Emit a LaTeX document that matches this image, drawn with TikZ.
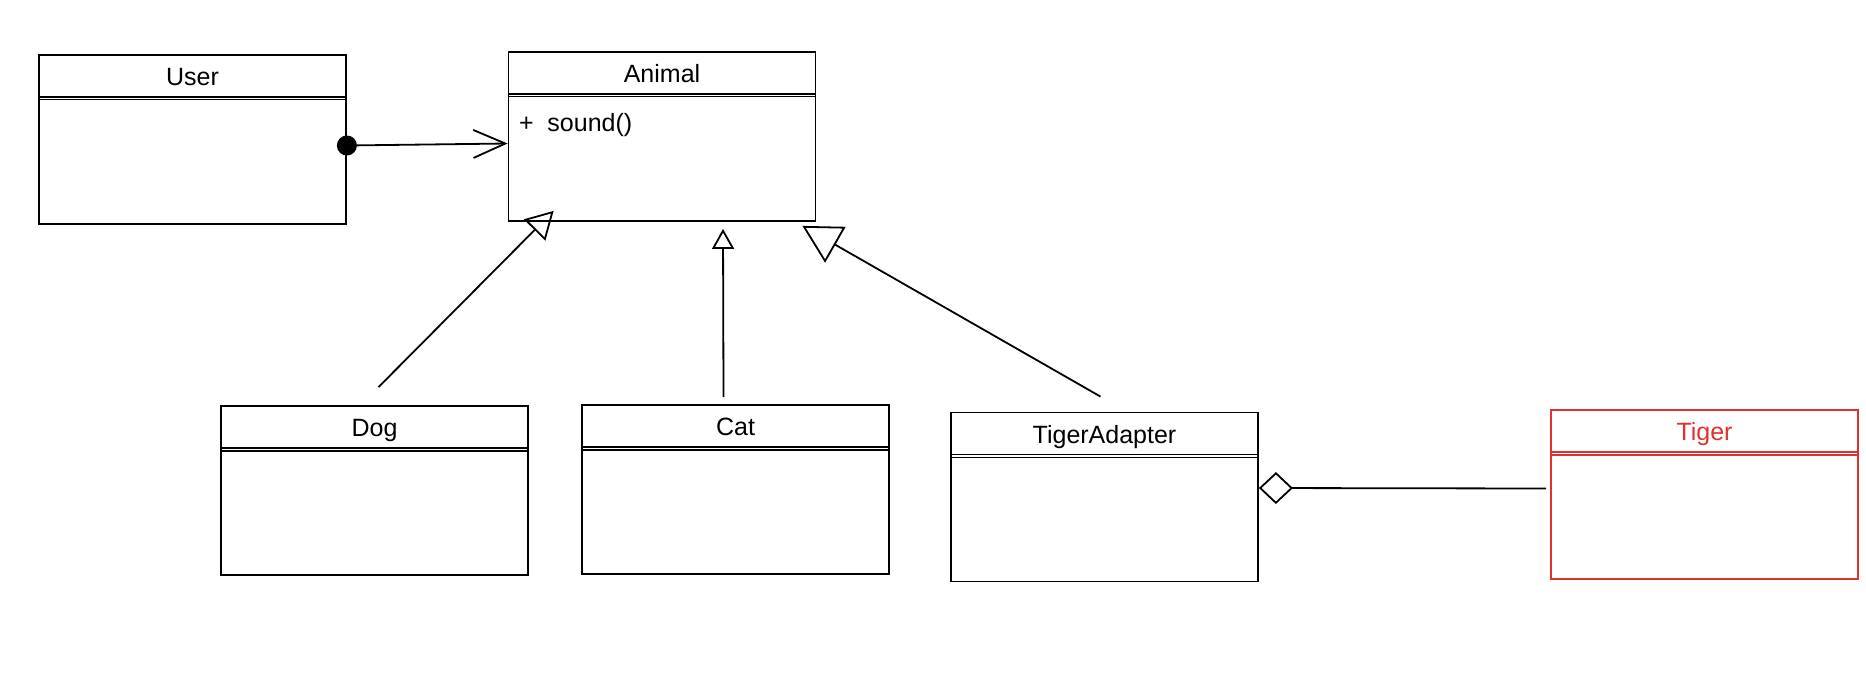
\documentclass[tikz,border=0pt]{standalone}
\usepackage{fontspec}
\setmainfont{Liberation Sans}
\usepackage{xcolor}
\usetikzlibrary{arrows.meta,shapes,calc,positioning}
\definecolor{tigerred}{RGB}{224,49,49}

\begin{document}
\begin{tikzpicture}[x=0.5pt,y=-0.5pt,
  classbox/.style={draw,line width=0.9pt,minimum width=153.5pt,minimum height=84.5pt,inner sep=0pt},
  classname/.style={font=\fontsize{12.5}{14}\selectfont,minimum height=21pt,text height=10pt,text depth=0pt,inner sep=0pt,anchor=north},
  member/.style={font=\fontsize{12.5}{14}\selectfont,inner sep=0pt,anchor=west},
  link/.style={line width=0.9pt}]
  \useasboundingbox (0,0) rectangle (1866,690);

  % classes
  \node[classbox] (user) at (192.5,139.5) {};
  \node[classbox] (animal) at (662,136.5) {};
  \node[classbox] (dog) at (374.5,490.5) {};
  \node[classbox] (cat) at (735.5,489.5) {};
  \node[classbox] (adapter) at (1104.5,497) {};
  \node[classbox,draw=tigerred] (tiger) at (1704.5,494.5) {};

  \node[classname] (usertitle) at (user.north) {User};
  \node[classname] (animaltitle) at (animal.north) {Animal};
  \node[classname] (dogtitle) at (dog.north) {Dog};
  \node[classname] (cattitle) at (cat.north) {Cat};
  \node[classname] (adaptertitle) at (adapter.north) {TigerAdapter};
  \node[classname,text=tigerred] (tigertitle) at (tiger.north) {Tiger};

  % header lines
  \foreach \c in {user,animal,dog,cat,adapter} {
    \draw[link] (\c title.south -| \c.west) -- (\c title.south -| \c.east);
    \draw[line width=0.6pt] ([yshift=-1.5pt]\c title.south -| \c.west) -- ([yshift=-1.5pt]\c title.south -| \c.east);
  }
  \draw[link,tigerred] (tigertitle.south -| tiger.west) -- (tigertitle.south -| tiger.east);
  \draw[line width=0.6pt,tigerred] ([yshift=-1.5pt]tigertitle.south -| tiger.west) -- ([yshift=-1.5pt]tigertitle.south -| tiger.east);

  \node[member] (sound) at ($(animal.west)+(11,-11)$) {+\ \ sound()};

  % relations
  \coordinate (userout) at ($(user.east)+(0,6)$);
  \coordinate (animalin) at ($(animal.west)+(0,7)$);
  \draw[link,{Circle[length=10pt]}-{Straight Barb[length=16pt,width=14pt]},shorten <=-5pt] (userout) -- (animalin);

  \coordinate (dogout) at ($(dog.north)+(4,-18)$);
  \coordinate (dogin) at ($(animal.south west)+(46,-11)$);
  \draw[link,-{Triangle[open,length=13.5pt,width=15pt]}] (dogout) -- (dogin);

  \coordinate (catout) at ($(cat.north)+(-12,-7)$);
  \coordinate (catin) at ($(animal.south)+(61,7)$);
  \draw[link,-{Triangle[open,length=10pt,width=11pt]}] (catout) -- (catin);

  \coordinate (adapterout) at ($(adapter.north)+(-4,-15)$);
  \coordinate (adapterin) at ($(animal.south east)+(-14,4)$);
  \draw[link,-{Triangle[open,length=19pt,width=20.5pt]}] (adapterout) -- (adapterin);

  \coordinate (adapterhold) at ($(adapter.east)+(0,-9)$);
  \coordinate (tigerin) at ($(tiger.west)+(-4,-6)$);
  \draw[link,{Diamond[open,length=17pt,width=16pt]}-] (adapterhold) -- (tigerin);
\end{tikzpicture}
\end{document}
